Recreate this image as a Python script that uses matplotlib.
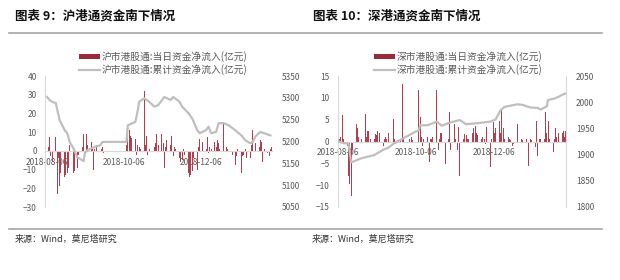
import matplotlib
matplotlib.use("Agg")
import matplotlib.pyplot as plt
import matplotlib.dates as mdates
import matplotlib.patches as mpatches
from matplotlib.lines import Line2D
import pandas as pd

plt.rcParams['font.family'] = ['Noto Sans CJK SC', 'DejaVu Sans']

# ── 数据 ──────────────────────────────────────────────
trade_days = pd.bdate_range("2018-08-06", "2019-01-31")

# 沪市港股通:当日资金净流入(亿元), 每行一周
sh_daily = [
    -10, 2, 7.5, -3, -6,
    7.5, -23, -4, -19, -12,
    -14, -13, -12, -9, 3,
    -12, -11, -3, -9, -2,
    2, 9, -1, 9, 3,
    5, 2, -10, 1, 3,
    6, 1, 2, -1, 0,
    0, 0, 0, 0, 0,
    0, 0, 0, 0, 0,
    3, 9, 11, 8, 7,
    6.6, -2.3, 3, 2, 1,
    32, 3, 8, -2, 1,
    -17.5, 2, 4, 9, 3,
    9, 4, -9, 2, 6,
    3, 8, -3, 2, 1,
    -4, -6, -5, 1, -2,
    -12, -14, -13, -11, -4,
    -10, 2, 6.5, 6, 5,
    1, 7.5, -1, 2, 1,
    5, 2, 6, 4, 1,
    15.5, 0, 2, 1, 0,
    -2, 0, -7.5, -3, 1,
    -12, -3, -2, 1, -4,
    -4, 3, 11, 9, 4,
    2, 6, 5, -6, 1,
    -1, -3, 1, 2,
]

# 沪市港股通:累计资金净流入(亿元)
sh_cum_dates = [
    "2018-08-06", "2018-08-08", "2018-08-10", "2018-08-13", "2018-08-16",
    "2018-08-20", "2018-08-22", "2018-08-24", "2018-08-27", "2018-08-30",
    "2018-09-03", "2018-09-04", "2018-09-05", "2018-09-07", "2018-09-10",
    "2018-09-13", "2018-09-17", "2018-09-19", "2018-10-08", "2018-10-09",
    "2018-10-15", "2018-10-17", "2018-10-18", "2018-10-22", "2018-10-26",
    "2018-10-30", "2018-11-02", "2018-11-07", "2018-11-12", "2018-11-14",
    "2018-11-19", "2018-11-21", "2018-11-26", "2018-11-29", "2018-12-03",
    "2018-12-05", "2018-12-10", "2018-12-12", "2018-12-14", "2018-12-18",
    "2018-12-20", "2018-12-24", "2018-12-28", "2019-01-02", "2019-01-07",
    "2019-01-10", "2019-01-14", "2019-01-16", "2019-01-18", "2019-01-22",
    "2019-01-25", "2019-01-30",
]
sh_cum = [
    5302, 5295, 5291, 5288, 5249,
    5226, 5219, 5199, 5184, 5164,
    5157, 5155, 5173, 5180, 5184,
    5188, 5191, 5199, 5199, 5237,
    5245, 5272, 5291, 5299, 5291,
    5280, 5283, 5302, 5295, 5302,
    5291, 5280, 5265, 5253, 5226,
    5219, 5226, 5234, 5219, 5222,
    5242, 5242, 5237, 5226, 5214,
    5203, 5196, 5199, 5211, 5222,
    5219, 5214,
]

# 深市港股通:当日资金净流入(亿元), 每行一周
sz_daily = [
    -10, 0.5, 1, 6, 0.5,
    -1, -7.8, -9.7, -12.4, -2,
    4, 3, 1, 1, 0.5,
    6.3, 1, 2.5, 2.5, 0.5,
    0.5, 1.8, 1.5, 2.5, 2,
    -1, 0.5, 1, 0.5, 2,
    3.7, 5.2, 0.5, -0.5, 0.3,
    0.5, 13.2, 0.5, 0, 0,
    0.5, 1, 0.3, 0, 0,
    11.7, 5.6, 1, -1, 0.5,
    1, -4.7, 0.5, 0.5, 1,
    11.7, -2, 0.5, 2, 2,
    -5.1, -4, 0.5, 6.7, -2,
    4, 0.5, -2, 3.3, -8,
    0.5, 1.8, 1.5, 0.5, 0.5,
    2, 3, 3.5, 2, 1.5,
    0.5, 1, 0.5, -0.5, 3.3,
    -5.9, 0.5, 4.4, 2, 3,
    4.8, 2, 7.1, 3, 0.5,
    1, 0.5, 0.3, -1, -0.5,
    4, 0, 0, 0.5, 0.3,
    0.5, 0, -5.5, 0.5, 0.3,
    -1.3, 4.8, -3.3, 0.5, 0.5,
    0.5, 6.7, 2, 4.8, 0.5,
    -2.4, 0.5, 3, 1, 2,
    2, 2.5, 1, 2.5,
]

# 深市港股通:累计资金净流入(亿元)
sz_cum_dates = [
    "2018-08-06", "2018-08-10", "2018-08-14", "2018-08-16", "2018-08-17",
    "2018-08-24", "2018-09-03", "2018-09-10", "2018-09-14", "2018-09-19",
    "2018-09-28", "2018-10-08", "2018-10-09", "2018-10-15", "2018-10-22",
    "2018-10-26", "2018-11-01", "2018-11-09", "2018-11-14", "2018-11-23",
    "2018-12-03", "2018-12-07", "2018-12-11", "2018-12-14", "2018-12-24",
    "2018-12-28", "2019-01-03", "2019-01-09", "2019-01-11", "2019-01-16",
    "2019-01-17", "2019-01-22", "2019-01-25", "2019-01-28", "2019-01-31",
]
sz_cum = [
    1925, 1922, 1921, 1886, 1886,
    1893, 1899, 1909, 1913, 1922,
    1934, 1947, 1956, 1956, 1963,
    1955, 1961, 1966, 1958, 1960,
    1963, 1967, 1985, 1991, 1996,
    1995, 1990, 1989, 1986, 1992,
    2004, 2007, 2010, 2014, 2017,
]

tick_dates = ["2018-08-06", "2018-10-06", "2018-12-06"]

BAR_C = "#b0404f"
LINE_C = "#bfbfbf"
TXT_C = "#595959"
AX_C = "#d9d9d9"

W, H = 620, 280
fig = plt.figure(figsize=(W / 100, H / 100), dpi=100)


def px_axes(x0, x1, y0, y1):
    return fig.add_axes([x0 / W, 1 - y1 / H, (x1 - x0) / W, (y1 - y0) / H])


def draw_panel(rect, xlim, daily, cum_dates, cum, ylim, ylim2, yticks, yticks2,
               names, leg_xy, right_spine):
    ax = px_axes(*rect)
    ax.bar(trade_days, daily, width=0.75, color=BAR_C, linewidth=0, zorder=2)
    ax.set_xlim(pd.Timestamp(xlim[0]), pd.Timestamp(xlim[1]))
    ax.set_ylim(*ylim)
    ax.set_yticks(yticks)
    ax.set_xticks([pd.Timestamp(d) for d in tick_dates])
    ax.xaxis.set_major_formatter(mdates.DateFormatter("%Y-%m-%d"))
    for s in ["top", "right"]:
        ax.spines[s].set_visible(False)
    ax.spines["bottom"].set_position(("data", 0))
    ax.spines["bottom"].set_color(AX_C)
    ax.spines["left"].set_color(AX_C)
    ax.tick_params(axis="both", length=0, labelsize=6, labelcolor=TXT_C)
    ax.tick_params(axis="x", pad=5)
    ax.tick_params(axis="y", pad=6)

    ax2 = ax.twinx()
    ax2.plot(pd.to_datetime(cum_dates), cum, color=LINE_C, linewidth=1.6, zorder=3)
    ax2.set_ylim(*ylim2)
    ax2.set_yticks(yticks2)
    for s in ["top", "bottom", "left"]:
        ax2.spines[s].set_visible(False)
    ax2.spines["right"].set_visible(right_spine)
    ax2.spines["right"].set_color(AX_C)
    ax2.tick_params(axis="y", length=0, labelsize=6, labelcolor=TXT_C, pad=7)

    handles = [mpatches.Patch(color="#9b2b38", linewidth=0),
               Line2D([], [], color=LINE_C, linewidth=1.6)]
    fig.legend(handles, names, loc="upper left",
               bbox_to_anchor=(leg_xy[0] / W, 1 - leg_xy[1] / H),
               frameon=False, fontsize=7, labelcolor=TXT_C,
               handlelength=2.2, handleheight=0.5, handletextpad=0.15,
               labelspacing=0.2, borderpad=0, borderaxespad=0)
    return ax


draw_panel((45.1, 272.3, 76, 207), ("2018-08-04 12:00", "2019-01-31 12:00"),
           sh_daily, sh_cum_dates, sh_cum, (-30, 40), (5050, 5350),
           range(-30, 41, 10), range(5050, 5351, 50),
           ["沪市港股通:当日资金净流入(亿元)", "沪市港股通:累计资金净流入(亿元)"],
           (79, 51), False)

draw_panel((337.9, 566.3, 76, 207), ("2018-08-05 17:00", "2019-01-31 07:00"),
           sz_daily, sz_cum_dates, sz_cum, (-15, 15), (1800, 2050),
           range(-15, 16, 5), range(1800, 2051, 50),
           ["深市港股通:当日资金净流入(亿元)", "深市港股通:累计资金净流入(亿元)"],
           (374, 51), True)

# 标题与来源
fig.text(15 / W, 1 - 16 / H, "图表 9：沪港通资金南下情况", fontsize=9,
         fontweight="bold", color="#111111", va="center", ha="left")
fig.text(313 / W, 1 - 16 / H, "图表 10：深港通资金南下情况", fontsize=9,
         fontweight="bold", color="#111111", va="center", ha="left")
for yy in (33, 229):
    fig.add_artist(Line2D([9 / W, 602 / W], [1 - yy / H] * 2,
                          color="#a6a6a6", linewidth=1.2))
fig.text(15 / W, 1 - 239 / H, "来源：Wind，莫尼塔研究", fontsize=6.5,
         color="#333333", va="center", ha="left")
fig.text(312 / W, 1 - 239 / H, "来源：Wind，莫尼塔研究", fontsize=6.5,
         color="#333333", va="center", ha="left")

fig.savefig("out.png", dpi=100)
